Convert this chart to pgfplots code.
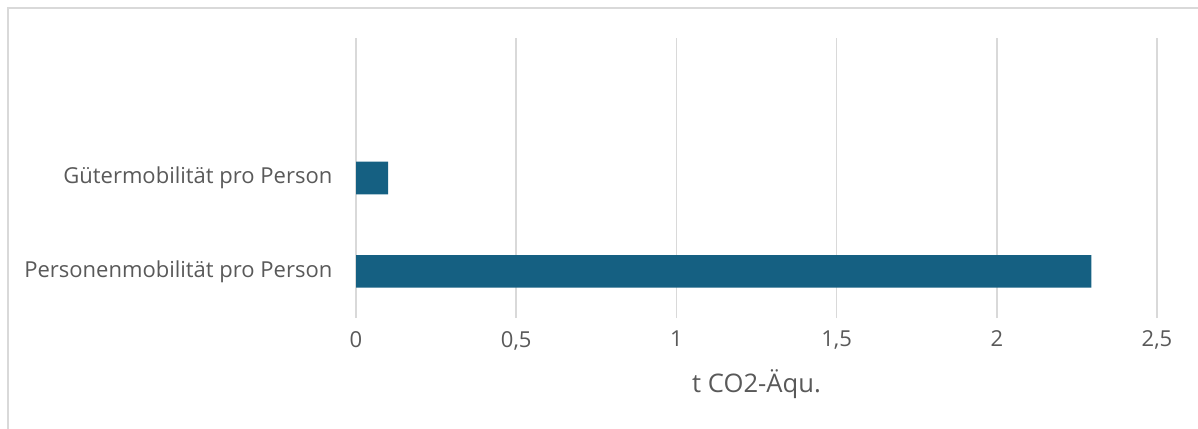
\documentclass[border=0pt]{standalone}
\usepackage{pgfplots}
\pgfplotsset{compat=1.18}
\usepackage{fontspec}
\setmainfont{Open Sans}
\definecolor{barc}{HTML}{156082}
\definecolor{gridc}{HTML}{D9D9D9}
\definecolor{txt}{HTML}{595959}
\begin{document}
\begin{tikzpicture}
\path[use as bounding box] (0pt,0pt) rectangle (599pt,214pt);
\draw[gridc, line width=1pt] (3.75pt,-10pt) -- (3.75pt,210pt) -- (620pt,210pt);
\begin{axis}[
  at={(178pt,55pt)}, anchor=south west,
  scale only axis, width=400.5pt, height=140pt,
  xbar, bar width=16.3pt,
  xmin=0, xmax=2.5, ymin=-0.5, ymax=2.5,
  ytick={0,1},
  yticklabels={Personenmobilität pro Person, Gütermobilität pro Person},
  xtick={0,0.5,1,1.5,2,2.5},
  xticklabels={0,{0,5},1,{1,5},2,{2,5}},
  xmajorgrids, grid style={gridc, line width=0.75pt},
  axis line style={draw=none},
  major tick length=0pt,
  ticklabel style={font=\fontsize{11}{13}\selectfont, text=txt},
  yticklabel style={xshift=-8.3pt},
  xticklabel style={yshift=-3pt},
  xlabel={t CO2-Äqu.},
  xlabel style={at={(axis description cs:0.5,0)}, anchor=center, yshift=-33pt, font=\fontsize{12.8}{15}\selectfont, text=txt},
]
\addplot[fill=barc, draw=none] coordinates {(2.295,0) (0.1,1)};
\end{axis}
\end{tikzpicture}
\end{document}
